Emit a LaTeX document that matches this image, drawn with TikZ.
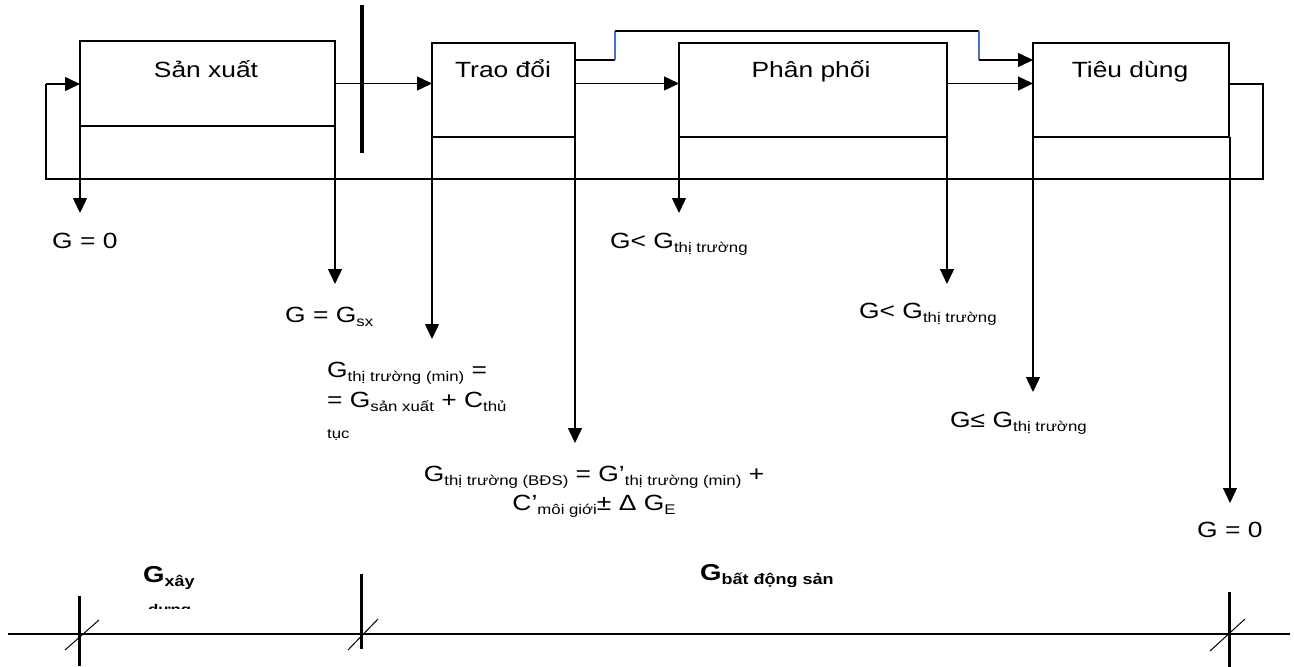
\documentclass[tikz,border=0pt]{standalone}
\usepackage{fontspec}
\setmainfont{Liberation Sans}[FakeStretch=1.2]
\usetikzlibrary{arrows.meta}
\definecolor{linkblue}{HTML}{4472C4}
\newcommand{\sbs}[1]{\raisebox{-4pt}{\fontsize{14}{14}\selectfont #1}}
\newcommand{\sbb}[1]{\raisebox{-4pt}{\fontsize{15}{15}\selectfont #1}}
\newcommand{\mainsz}{\fontsize{22}{26}\selectfont}
\begin{document}
\begin{tikzpicture}[x=1pt,y=-1pt,
  box/.style={draw, line width=1.4pt, outer sep=0pt, inner sep=0pt},
  conn/.style={line width=1.4pt},
  arr/.style={conn, -{Triangle[length=15pt,width=14pt]}},
  boxlabel/.style={font=\mainsz, inner sep=0pt, anchor=base},
  lab/.style={font=\mainsz, inner sep=0pt, anchor=base west},
  clab/.style={font=\mainsz, inner sep=0pt, anchor=base},
  blab/.style={font=\bfseries\fontsize{23}{26}\selectfont, inner sep=0pt, anchor=base west},
  bluel/.style={line width=1.2pt, draw=linkblue},
  tick/.style={line width=3pt},
  slash/.style={line width=1pt},
]
\useasboundingbox (0,0) rectangle (1294,667);

% boxes
\node[box, minimum width=255pt, minimum height=85pt] (p1) at (207.5,83.5) {};
\node[box, minimum width=143pt, minimum height=94pt] (p2) at (503.5,90) {};
\node[box, minimum width=268pt, minimum height=94pt] (p3) at (813,90) {};
\node[box, minimum width=196pt, minimum height=94pt] (p4) at (1131,90) {};

\node[boxlabel] (t1) at (206,77) {Sản xuất};
\node[boxlabel] (t2) at (503,77) {Trao đổi};
\node[boxlabel] (t3) at (811,77) {Phân phối};
\node[boxlabel] (t4) at (1130,77) {Tiêu dùng};

% thick separator
\coordinate (bar1) at (362,5);
\coordinate (bar2) at (362,153);
\draw[line width=4pt] (bar1) -- (bar2);

% main flow
\draw[arr] (p1.east) -- (p2.west |- p1.east);
\draw[arr] (p2.east |- p1.east) -- (p3.west |- p1.east);
\draw[arr] (p3.east |- p1.east) -- (p4.west |- p1.east);

% upper route Trao doi -> Tieu dung
\coordinate (u0) at (575,60);
\coordinate (u1) at (615,60);
\coordinate (u2) at (615,31);
\coordinate (u3) at (979,31);
\coordinate (u4) at (979,60);
\draw[conn] (u0) -- (u1);
\draw[bluel] (u1) -- (u2);
\draw[conn] (u2) -- (u3);
\draw[bluel] (u3) -- (u4);
\draw[arr] (u4) -- (p4.west |- u4);

% feedback loop
\coordinate (r1) at (1263,84);
\coordinate (r2) at (1263,179);
\coordinate (l2) at (46,179);
\coordinate (l1) at (46,84);
\draw[conn] (p4.east |- r1) -- (r1) -- (r2) -- (l2) -- (l1);
\draw[arr] (l1) -- (p1.west |- l1);

% downward arrows
\coordinate (d1) at (80,213);
\coordinate (d2) at (335,284);
\coordinate (d3) at (432,339);
\coordinate (d4) at (575,443);
\coordinate (d5) at (679,213);
\coordinate (d6) at (947,284);
\coordinate (d7) at (1033,392);
\coordinate (d8) at (1230,503);
\draw[arr] (p1.south west) -- (d1);
\draw[arr] (p1.south east) -- (d2);
\draw[arr] (p2.south west) -- (d3);
\draw[arr] (p2.south east) -- (d4);
\draw[arr] (p3.south west) -- (d5);
\draw[arr] (p3.south east) -- (d6);
\draw[arr] (p4.south west) -- (d7);
\draw[arr] ([xshift=1pt]p4.south east) -- (d8);

% labels
\node[lab] (g1) at (52,248) {G = 0};
\node[lab] (g2) at (285,322) {G = G\sbs{sx}};
\node[lab] (g3a) at (327,377) {G\sbs{thị trường (min)} =};
\node[lab] (g3b) at (327,407) {= G\sbs{sản xuất} + C\sbs{thủ}};
\node[lab, font=\fontsize{14}{14}\selectfont] (g3c) at (327,438) {tục};
\node[clab] (g4a) at (594,481) {G\sbs{thị trường (BĐS)} = G’\sbs{thị trường (min)} +};
\node[clab] (g4b) at (594,510) {C’\sbs{môi giới}± Δ G\sbs{E}};
\node[lab] (g5) at (610,248) {G< G\sbs{thị trường}};
\node[lab] (g6) at (859,318) {G< G\sbs{thị trường}};
\node[lab] (g7) at (950,427) {G≤ G\sbs{thị trường}};
\node[lab] (g8) at (1197,537) {G = 0};

% bottom axis
\coordinate (ax1) at (8,634);
\coordinate (ax2) at (1290,634);
\draw[conn] (ax1) -- (ax2);
\coordinate (k1a) at (79,596); \coordinate (k1b) at (79,666);
\coordinate (k2a) at (361,574); \coordinate (k2b) at (361,649);
\coordinate (k3a) at (1229,592); \coordinate (k3b) at (1229,667);
\draw[tick] (k1a) -- (k1b);
\draw[tick] (k2a) -- (k2b);
\draw[tick] (k3a) -- (k3b);
\coordinate (s1a) at (65,650); \coordinate (s1b) at (99,620);
\coordinate (s2a) at (348,650); \coordinate (s2b) at (378,619);
\coordinate (s3a) at (1210,651); \coordinate (s3b) at (1245,619);
\draw[slash] (s1a) -- (s1b);
\draw[slash] (s2a) -- (s2b);
\draw[slash] (s3a) -- (s3b);

\node[blab] (b1) at (143,582) {G\sbb{xây}};
\begin{scope}
\clip (140,602) rectangle (200,608);
\node[blab, font=\bfseries\fontsize{14}{14}\selectfont] (b1b) at (148,614) {dựng};
\end{scope}
\node[blab] (b2) at (700,580) {G\sbb{bất động sản}};
\end{tikzpicture}
\end{document}
